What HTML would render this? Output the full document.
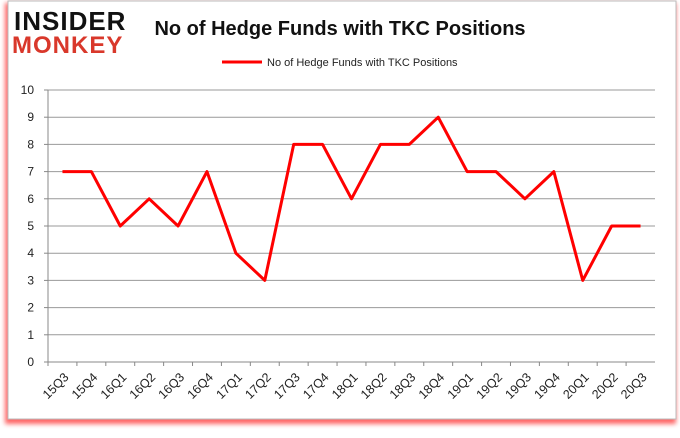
<!DOCTYPE html>
<html><head><meta charset="utf-8"><style>
body{margin:0;width:680px;height:433px;background:#fff;overflow:hidden;font-family:"Liberation Sans",sans-serif}
</style></head><body>
<svg width="680" height="433">
<defs><filter id="sh" x="-5%" y="-5%" width="110%" height="115%"><feGaussianBlur stdDeviation="2.5"/></filter></defs>
<rect x="5" y="3" width="671" height="421" fill="#f00" opacity="0.6" filter="url(#sh)"/>
<rect x="8" y="1" width="668" height="418" fill="#fff" stroke="#bbb"/>
<text x="14" y="30" font-size="26" font-weight="bold" fill="#111" letter-spacing="1">INSIDER</text>
<text x="12" y="53" font-size="24" font-weight="bold" fill="#d9382b" letter-spacing="1">MONKEY</text>
<text x="340" y="35" font-size="20" font-weight="bold" text-anchor="middle" fill="#111">No of Hedge Funds with TKC Positions</text>
<line x1="222" y1="62" x2="262" y2="62" stroke="#f00" stroke-width="3"/>
<text x="267" y="66" font-size="11" fill="#222">No of Hedge Funds with TKC Positions</text>
<g id="grid"></g><g id="axes"></g><g id="series"></g>
</svg>
<script>
const categories=["15Q3","15Q4","16Q1","16Q2","16Q3","16Q4","17Q1","17Q2","17Q3","17Q4","18Q1","18Q2","18Q3","18Q4","19Q1","19Q2","19Q3","19Q4","20Q1","20Q2","20Q3"];
const values=[7,7,5,6,5,7,4,3,8,8,6,8,8,9,7,7,6,7,3,5,5];
const yTicks=[0,1,2,3,4,5,6,7,8,9,10];
const NS="http://www.w3.org/2000/svg";
const L=48,R=655,T=90,B=362;
const bw=(R-L)/categories.length;
const x=i=>L+bw*(i+0.5);
const y=v=>B-(v/10)*(B-T);
function mk(tag,at,parent){const e=document.createElementNS(NS,tag);for(const k in at)e.setAttribute(k,at[k]);parent.appendChild(e);return e;}
const g=document.getElementById('grid'),a=document.getElementById('axes'),s=document.getElementById('series');
yTicks.forEach(v=>{
 if(v>0){const gl=mk('line',{x1:L,x2:R,y1:y(v),y2:y(v),stroke:'#999','stroke-width':1},g);
 
 }
 const tk=mk('line',{x1:L-4,x2:L,y1:y(v),y2:y(v),stroke:'#888'},a);
 
 
 const t=mk('text',{x:L-14,y:y(v)+4,'font-size':12,'text-anchor':'end',fill:'#222'},a);t.textContent=v;
 
 
});
const ax=mk('line',{x1:L,x2:L,y1:T,y2:B,stroke:'#888'},a);


const xa=mk('line',{x1:L,x2:R,y1:B,y2:B,stroke:'#888'},a);


categories.forEach((c,i)=>{
 const tk=mk('line',{x1:L+bw*i,x2:L+bw*i,y1:B,y2:B+4,stroke:'#888'},a);
 
 
 const tx=x(i)+7,ty=B+16;
 const t=mk('text',{x:tx,y:ty,'font-size':12.5,'text-anchor':'end',fill:'#222',transform:`rotate(-45 ${tx} ${ty})`},a);t.textContent=c;
 
 
});
const p=mk('polyline',{points:values.map((v,i)=>x(i)+','+y(v)).join(' '),fill:'none',stroke:'#f00','stroke-width':3,'stroke-linejoin':'round'},s);


</script>
</body></html>
